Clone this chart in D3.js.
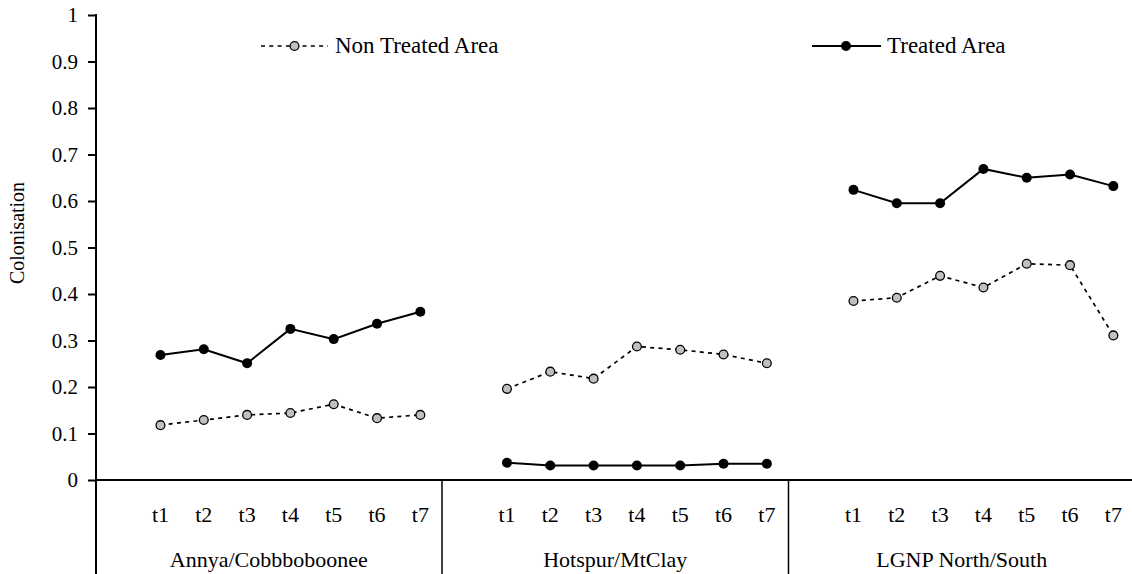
<!DOCTYPE html>
<html>
<head>
<meta charset="utf-8">
<script src="https://cdn.jsdelivr.net/npm/d3@7"></script>
<style>
  html, body { margin: 0; padding: 0; background: #fff; }
  svg { display: block; }
  text { font-family: "Liberation Serif", "Times New Roman", serif; fill: #000; }
</style>
</head>
<body>
<script>
// ---- data ----
const groups = ["Annya/Cobbboboonee", "Hotspur/MtClay", "LGNP North/South"];
const periods = ["t1", "t2", "t3", "t4", "t5", "t6", "t7"];
const nonTreated = [
  [0.118, 0.129, 0.140, 0.144, 0.163, 0.133, 0.140],
  [0.196, 0.233, 0.218, 0.287, 0.280, 0.270, 0.251],
  [0.385, 0.392, 0.439, 0.414, 0.465, 0.462, 0.311]
];
const treated = [
  [0.269, 0.281, 0.251, 0.325, 0.303, 0.336, 0.362],
  [0.037, 0.031, 0.031, 0.031, 0.031, 0.035, 0.035],
  [0.624, 0.595, 0.595, 0.669, 0.650, 0.657, 0.632]
];
const yTicks = [0, 0.1, 0.2, 0.3, 0.4, 0.5, 0.6, 0.7, 0.8, 0.9, 1];
const yTitle = "Colonisation";
const seriesNames = ["Non Treated Area", "Treated Area"];

// ---- layout ----
const W = 1132, H = 574;
const axisX = 96;
const svg = d3.select("body").append("svg").attr("width", W).attr("height", H);

const keys = [];
groups.forEach((g, gi) => { keys.push(gi + "|"); periods.forEach(p => keys.push(gi + "|" + p)); });
const x = d3.scaleBand().domain(keys).range([95.5, 1135]).paddingInner(0).paddingOuter(0);
const cx = (gi, p) => x(gi + "|" + p) + x.bandwidth() / 2;
const y = d3.scaleLinear().domain([0, 1]).range([480, 15]);

// y axis
const yAxis = svg.append("g").attr("transform", `translate(${axisX},0)`)
  .call(d3.axisLeft(y).tickValues(yTicks).tickSize(8).tickPadding(10).tickFormat(d3.format("~g")));
yAxis.select(".domain").remove();
yAxis.selectAll(".tick line").attr("stroke", "#000").attr("stroke-width", 2);
yAxis.selectAll(".tick text").attr("font-size", 21).attr("font-family", "Liberation Serif").attr("fill", "#000");
svg.append("line").attr("x1", axisX).attr("x2", axisX).attr("y1", y(1) - 1).attr("y2", H)
  .attr("stroke", "#000").attr("stroke-width", 2);

// x axis line
svg.append("line").attr("x1", axisX).attr("x2", W).attr("y1", y(0)).attr("y2", y(0))
  .attr("stroke", "#000").attr("stroke-width", 2);

// group separators
groups.forEach((g, gi) => {
  if (gi === 0) return;
  const sx = x(gi + "|");
  svg.append("line").attr("x1", sx).attr("x2", sx).attr("y1", y(0)).attr("y2", H)
    .attr("stroke", "#000").attr("stroke-width", 1.5);
});

// category labels
groups.forEach((g, gi) => {
  periods.forEach(p => {
    svg.append("text").attr("x", cx(gi, p)).attr("y", 522).attr("text-anchor", "middle")
      .attr("font-size", 22).text(p);
  });
  const gx0 = x(gi + "|"), gx1 = gx0 + x.bandwidth() * (periods.length + 1);
  svg.append("text").attr("x", (gx0 + gx1) / 2).attr("y", 567).attr("text-anchor", "middle")
    .attr("font-size", 22).text(g);
});

// y title
svg.append("text").attr("transform", `translate(24,233) rotate(-90)`).attr("text-anchor", "middle")
  .attr("font-size", 20).text(yTitle);

// lines
const line = d3.line().x(d => d[0]).y(d => d[1]);
groups.forEach((g, gi) => {
  const nt = periods.map((p, i) => [cx(gi, p), y(nonTreated[gi][i])]);
  const tr = periods.map((p, i) => [cx(gi, p), y(treated[gi][i])]);
  svg.append("path").attr("d", line(nt)).attr("fill", "none").attr("stroke", "#000")
    .attr("stroke-width", 1.7).attr("stroke-dasharray", "4,4.3");
  svg.append("path").attr("d", line(tr)).attr("fill", "none").attr("stroke", "#000")
    .attr("stroke-width", 2);
  svg.selectAll(null).data(nt).enter().append("circle")
    .attr("cx", d => d[0]).attr("cy", d => d[1]).attr("r", 4.4)
    .attr("fill", "#c0c0c0").attr("stroke", "#000").attr("stroke-width", 1.3);
  svg.selectAll(null).data(tr).enter().append("circle")
    .attr("cx", d => d[0]).attr("cy", d => d[1]).attr("r", 5)
    .attr("fill", "#000");
});

// legend
const lg = svg.append("g");
lg.append("line").attr("x1", 261).attr("x2", 328).attr("y1", 46).attr("y2", 46)
  .attr("stroke", "#000").attr("stroke-width", 1.7).attr("stroke-dasharray", "4,4.3");
lg.append("circle").attr("cx", 294.5).attr("cy", 46).attr("r", 4.4)
  .attr("fill", "#c0c0c0").attr("stroke", "#000").attr("stroke-width", 1.3);
lg.append("text").attr("x", 335).attr("y", 53).attr("font-size", 23).text(seriesNames[0]);
lg.append("line").attr("x1", 812).attr("x2", 881).attr("y1", 46).attr("y2", 46)
  .attr("stroke", "#000").attr("stroke-width", 2);
lg.append("circle").attr("cx", 846).attr("cy", 46).attr("r", 5).attr("fill", "#000");
lg.append("text").attr("x", 887).attr("y", 53).attr("font-size", 23).text(seriesNames[1]);
</script>
</body>
</html>
